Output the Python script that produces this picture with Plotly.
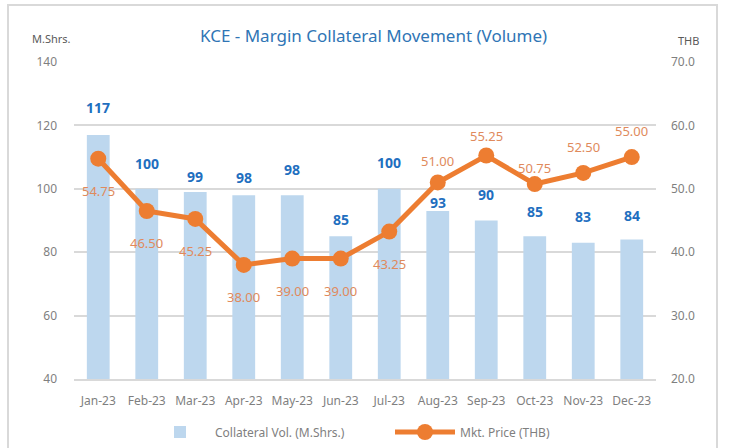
import plotly.graph_objects as go

months = ["Jan-23", "Feb-23", "Mar-23", "Apr-23", "May-23", "Jun-23",
          "Jul-23", "Aug-23", "Sep-23", "Oct-23", "Nov-23", "Dec-23"]
collateral_vol = [117, 100, 99, 98, 98, 85, 100, 93, 90, 85, 83, 84]
mkt_price = [54.75, 46.50, 45.25, 38.00, 39.00, 39.00, 43.25, 51.00, 55.25, 50.75, 52.50, 55.00]

left_ticks = [40, 60, 80, 100, 120, 140]
right_ticks = [20, 30, 40, 50, 60, 70]

# label offsets (pixels) as placed in the original chart
bar_label_shift = [27, 25, 15, 18, 26, 17, 26, 8, 26, 25, 26, 24]
price_label_shift = [-32, -32, -32, -32, -32, -32, -32, 21, 20, 16, 26, 26]

FONT = "Noto Sans"
GRAY = "#7F7F7F"
BAR_COLOR = "#BDD7EE"
LINE_COLOR = "#ED7D31"
BAR_LABEL = "#1F6FBF"
PRICE_LABEL = "#E08A5C"

W, H = 729, 448
L, R, T, B = 74, 73, 62, 69
pw, ph = W - L - R, H - T - B


def px(x):
    return (x - L) / pw


def py(y):
    return (H - y - B) / ph


fig = go.Figure()
fig.add_trace(go.Bar(
    x=months, y=collateral_vol, name="Collateral Vol. (M.Shrs.)",
    marker=dict(color=BAR_COLOR, line=dict(width=0)),
    yaxis="y", legend="legend",
))
fig.add_trace(go.Scatter(
    x=months, y=mkt_price, name="Mkt. Price (THB)", mode="lines+markers",
    line=dict(color=LINE_COLOR, width=5),
    marker=dict(color=LINE_COLOR, size=16),
    yaxis="y2", legend="legend2",
))

annotations = []
for m, v, s in zip(months, collateral_vol, bar_label_shift):
    annotations.append(dict(
        x=m, y=v, xref="x", yref="y", text=f"<b>{v}</b>", showarrow=False,
        yshift=s, yanchor="middle",
        font=dict(family=FONT, size=14, color=BAR_LABEL),
    ))
for m, p, s in zip(months, mkt_price, price_label_shift):
    annotations.append(dict(
        x=m, y=p, xref="x", yref="y2", text=f"{p:.2f}", showarrow=False,
        yshift=s, yanchor="middle",
        font=dict(family=FONT, size=13, color=PRICE_LABEL),
    ))
annotations += [
    dict(x=px(373), y=py(35), xref="paper", yref="paper",
         text="KCE - Margin Collateral Movement (Volume)", showarrow=False,
         xanchor="center", yanchor="middle",
         font=dict(family=FONT, size=17, color="#2F75B5")),
    dict(x=px(51), y=py(38), xref="paper", yref="paper", text="M.Shrs.", showarrow=False,
         xanchor="center", yanchor="middle", font=dict(family=FONT, size=11, color="#595959")),
    dict(x=px(688), y=py(40), xref="paper", yref="paper", text="THB", showarrow=False,
         xanchor="center", yanchor="middle", font=dict(family=FONT, size=11, color="#595959")),
]

legend_style = dict(orientation="h", xanchor="left", y=py(432), yanchor="middle",
                    font=dict(family=FONT, size=12, color=GRAY), itemwidth=60,
                    bgcolor="rgba(0,0,0,0)")

fig.update_layout(
    width=W, height=H,
    margin=dict(l=L, r=R, t=T, b=B, autoexpand=False),
    paper_bgcolor="white", plot_bgcolor="white",
    font=dict(family=FONT, size=12, color=GRAY),
    bargap=0.53,
    showlegend=True,
    legend=dict(x=px(145), **legend_style),
    legend2=dict(x=px(390), **legend_style),
    xaxis=dict(range=[-0.5, len(months) - 0.5], showgrid=False, showline=True,
               linecolor="#D9D9D9", linewidth=2, ticklabelstandoff=10,
               ticks="", tickfont=dict(family=FONT, size=12, color=GRAY)),
    yaxis=dict(range=[40, 140], tickvals=left_ticks, showgrid=True, gridcolor="#D9D9D9",
               gridwidth=2, zeroline=False, showline=False, ticks="",
               tickfont=dict(family=FONT, size=12, color=GRAY), ticklabelstandoff=16),
    yaxis2=dict(range=[20, 70], tickvals=right_ticks, overlaying="y", side="right",
                showgrid=False, zeroline=False, showline=False, ticks="",
                tickformat=".1f", tickfont=dict(family=FONT, size=12, color=GRAY),
                ticklabelstandoff=14),
    annotations=annotations,
    shapes=[dict(type="rect", xref="paper", yref="paper",
                 x0=px(8), x1=px(717), y0=py(470), y1=py(5),
                 line=dict(color="#D9D9D9", width=2), fillcolor="rgba(0,0,0,0)", layer="below")],
)

fig.write_html("out.html", config={"displayModeBar": False},
               post_script="document.body.style.margin='0';")
